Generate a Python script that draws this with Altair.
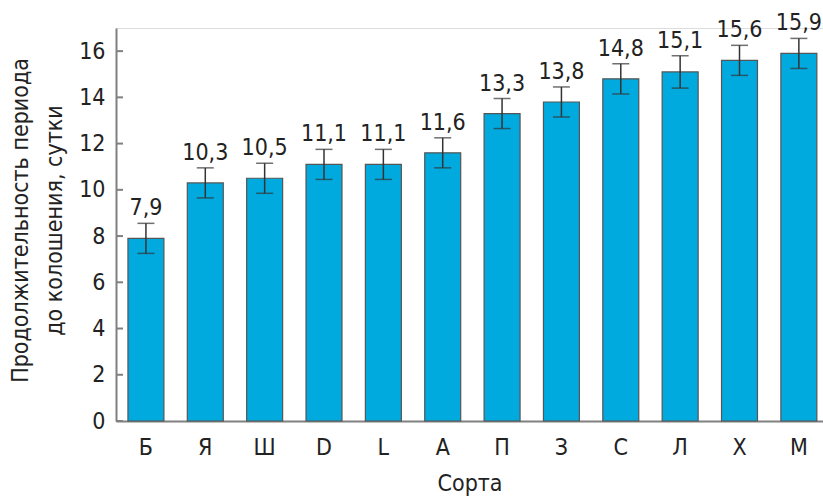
import altair as alt
import pandas as pd

categories = ["Б", "Я", "Ш", "D", "L", "А", "П", "З", "С", "Л", "Х", "М"]
values = [7.9, 10.3, 10.5, 11.1, 11.1, 11.6, 13.3, 13.8, 14.8, 15.1, 15.6, 15.9]
errors = [0.65, 0.65, 0.65, 0.65, 0.65, 0.65, 0.65, 0.65, 0.65, 0.7, 0.65, 0.65]
y_ticks = [0, 2, 4, 6, 8, 10, 12, 14, 16]

df = pd.DataFrame({
    "cat": categories,
    "val": values,
    "lo": [v - e for v, e in zip(values, errors)],
    "hi": [v + e for v, e in zip(values, errors)],
    "label": [f"{v:.1f}".replace(".", ",") for v in values],
})
ticks_df = pd.DataFrame({"t": y_ticks})

FONT = "DejaVu Sans Condensed, Roboto, sans-serif"
FS = 23
TXT = "#222222"
AX = "#808080"

xscale = alt.Scale(domain=categories, paddingInner=0.394, paddingOuter=0.1525, align=0.66)
yscale = alt.Scale(domain=[0, 17], nice=False)

x_enc = alt.X("cat:N", sort=categories, scale=xscale, axis=alt.Axis(
    title="Сорта", labelAngle=0, labelFont=FONT, labelFontSize=FS, labelColor=TXT,
    labelPadding=15, ticks=False, domainColor=AX, domainWidth=2,
    titleFont=FONT, titleFontSize=FS, titleFontWeight="normal", titleColor=TXT,
    titlePadding=13))

bars = alt.Chart(df).mark_bar(color="#00AADF", stroke="#555555", strokeWidth=1.2).encode(
    x=x_enc,
    y=alt.Y("val:Q", scale=yscale, axis=alt.Axis(
        values=y_ticks, grid=False, tickSize=0, labelPadding=11,
        labelFont=FONT, labelFontSize=FS, labelColor=TXT,
        domainColor=AX, domainWidth=2,
        title=["Продолжительность периода", "до колошения, сутки"],
        titleFont=FONT, titleFontSize=FS, titleFontWeight="normal", titleColor=TXT,
        titleAngle=-90, titleAlign="center", titleBaseline="top",
        titleX=-107, titleY=192, titleLineHeight=34)),
)

err = alt.Chart(df).mark_rule(color="#333333", strokeWidth=1.5).encode(
    x=alt.X("cat:N", sort=categories, scale=xscale),
    y=alt.Y("lo:Q", scale=yscale),
    y2="hi:Q",
)
cap_lo = alt.Chart(df).mark_tick(color="#333333", thickness=1.5, size=17).encode(
    x=alt.X("cat:N", sort=categories, scale=xscale),
    y=alt.Y("lo:Q", scale=yscale),
)
cap_hi = alt.Chart(df).mark_tick(color="#333333", thickness=1.5, size=17).encode(
    x=alt.X("cat:N", sort=categories, scale=xscale),
    y=alt.Y("hi:Q", scale=yscale),
)
labels = alt.Chart(df).mark_text(font=FONT, fontSize=FS, color=TXT, baseline="alphabetic", dy=-8).encode(
    x=alt.X("cat:N", sort=categories, scale=xscale),
    y=alt.Y("hi:Q", scale=yscale),
    text="label:N",
)
yticks = alt.Chart(ticks_df).mark_rule(color=AX, strokeWidth=2).encode(
    y=alt.Y("t:Q", scale=yscale),
    x=alt.value(0),
    x2=alt.value(7),
)

chart = alt.layer(bars, err, cap_lo, cap_hi, labels, yticks).properties(
    width=707, height=393,
    autosize=alt.AutoSizeParams(type="none"),
    padding={"left": 116, "top": 28, "right": 0, "bottom": 77},
).configure_view(stroke=None).configure(background="white")

chart.save("out.html", embed_options={"renderer": "svg", "actions": False})
